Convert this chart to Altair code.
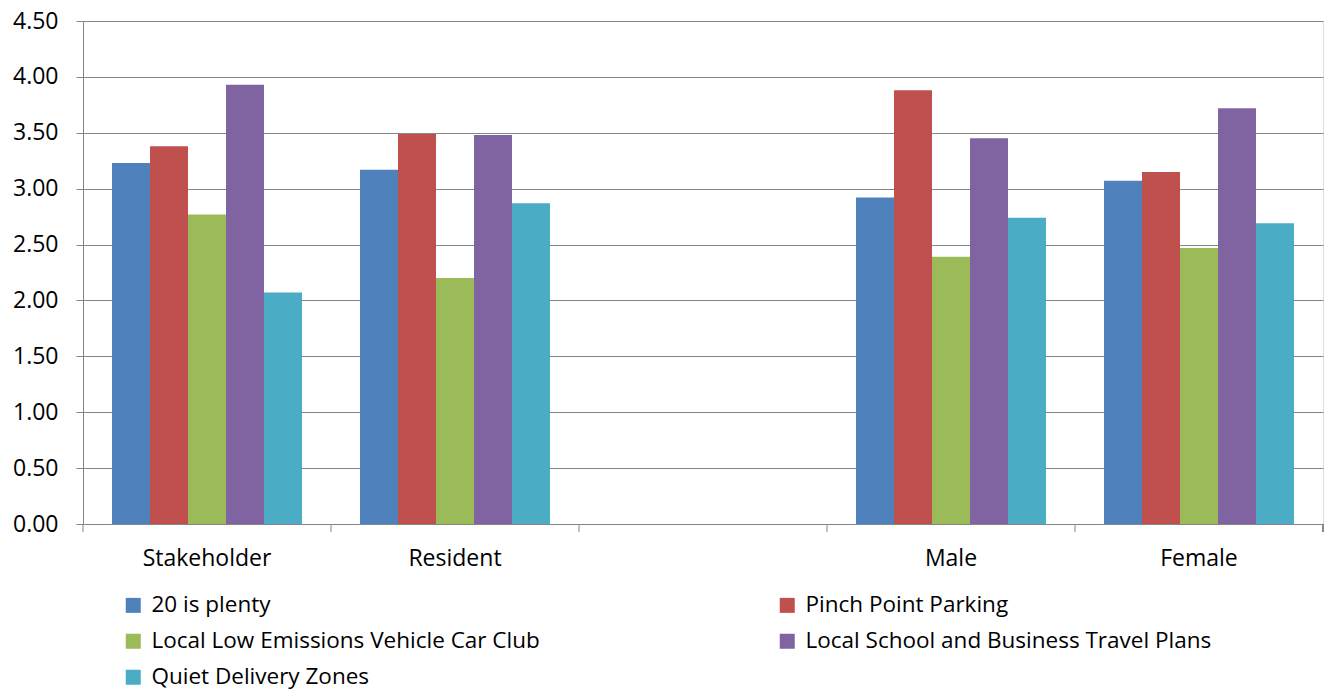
import altair as alt
import pandas as pd

categories = ["Stakeholder", "Resident", " ", "Male", "Female"]
series = [
    "20 is plenty",
    "Pinch Point Parking",
    "Local Low Emissions Vehicle Car Club",
    "Local School and Business Travel Plans",
    "Quiet Delivery Zones",
]
plenty = [3.23, 3.17, None, 2.92, 3.07]
pinch = [3.38, 3.49, None, 3.88, 3.15]
lowem = [2.77, 2.20, None, 2.39, 2.47]
school = [3.93, 3.48, None, 3.45, 3.72]
quiet = [2.07, 2.87, None, 2.74, 2.69]
colors = ["#4F81BD", "#C0504D", "#9BBB59", "#8064A2", "#4BACC6"]
y_ticks = [0.0, 0.5, 1.0, 1.5, 2.0, 2.5, 3.0, 3.5, 4.0, 4.5]

rows = []
for s, vals in zip(series, [plenty, pinch, lowem, school, quiet]):
    for c, v in zip(categories, vals):
        if v is not None:
            rows.append({"category": c, "series": s, "value": v})
df = pd.DataFrame(rows)
cat_df = pd.DataFrame({"category": categories})

FONT = "Open Sans"
FS = 23
GRAY = "#868686"
W, H = 1240, 503

xscale = alt.Scale(domain=categories, paddingInner=0, paddingOuter=0)

bars = alt.Chart(df).mark_bar().encode(
    x=alt.X("category:N", scale=xscale, sort=categories,
            axis=alt.Axis(title=None, ticks=False, labelAngle=0, labelFontSize=FS,
                          labelPadding=23, labelColor="black", domainColor=GRAY,
                          labelFont=FONT, grid=False)),
    xOffset=alt.XOffset("series:N", scale=alt.Scale(domain=series, paddingInner=0, paddingOuter=0.763)),
    y=alt.Y("value:Q", scale=alt.Scale(domain=[0, 4.5], nice=False, zero=True),
            axis=alt.Axis(title=None, values=y_ticks, format=".2f", tickSize=7,
                          tickColor=GRAY, domainColor=GRAY, gridColor=GRAY,
                          labelFontSize=FS, labelFont=FONT, labelColor="black",
                          labelPadding=18)),
    color=alt.Color("series:N", scale=alt.Scale(domain=series, range=colors),
                    legend=alt.Legend(title=None, orient="none", legendX=39, legendY=573,
                                      direction="horizontal", columns=2,
                                      columnPadding=236, rowPadding=13,
                                      symbolType="square", symbolSize=225,
                                      symbolStrokeWidth=0, labelFontSize=22.5,
                                      labelFont=FONT, labelColor="black",
                                      labelOffset=7, labelLimit=0)),
)

ticks = alt.Chart(cat_df).mark_rule(color=GRAY).encode(
    x=alt.X("category:N", scale=xscale, bandPosition=0),
    y=alt.value(H),
    y2=alt.value(H + 8),
)

end_tick = alt.Chart(cat_df).mark_rule(color=GRAY).encode(
    x=alt.value(W),
    y=alt.value(H),
    y2=alt.value(H + 8),
)

chart = alt.layer(bars, ticks, end_tick).properties(
    width=W, height=H,
    autosize=alt.AutoSizeParams(type="none"),
    padding={"left": 83, "top": 21, "right": 2, "bottom": 167},
).configure_view(stroke=None).configure(background="white")

chart.save("out.html", embed_options={"renderer": "svg", "actions": False})
